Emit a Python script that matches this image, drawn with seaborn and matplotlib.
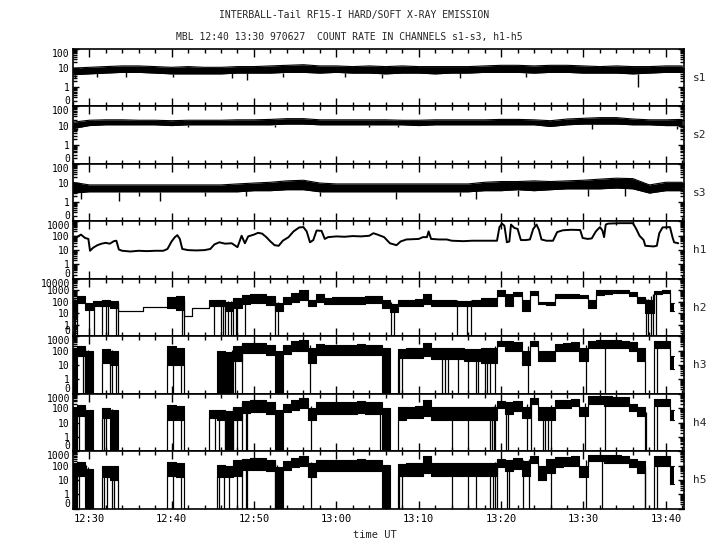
import numpy as np
import matplotlib
matplotlib.use("Agg")
import matplotlib.pyplot as plt
from matplotlib.ticker import FixedLocator, FixedFormatter, LogLocator, MultipleLocator, NullFormatter, FuncFormatter
import seaborn as sns

# time axis: minutes after 12:00 UT
T = np.arange(28, 102)        # 1-min grid for the hard channels
T2 = np.arange(28, 103, 2)    # 2-min grid for the soft channels

# soft channels: lower / upper edge of the noisy trace
s1_lo = [4.5, 5, 5.5, 6, 6, 5.5, 5, 5, 5, 5,
         5.5, 5.5, 5.5, 6, 6, 5.5, 6, 5.5, 5.5, 5,
         5.5, 5.5, 5, 5.5, 5.5, 6, 6, 6, 5.5, 6,
         6, 5.5, 5.5, 5.5, 5, 5.5, 6, 6]
s1_hi = [10, 11, 12, 13, 13, 12, 11, 12, 11, 11,
         12, 12, 13, 14, 15, 13, 13, 12, 13, 12,
         13, 12, 12, 12, 12, 13, 14, 14, 13, 14,
         14, 13, 12, 13, 12, 12, 13, 13]
s1_dip_t = [28.3, 31.0, 34.5, 40.2, 47.3, 49.2, 53.5, 61.0, 65.5, 75.0, 83.0, 96.6]
s1_dip_v = [3, 3.5, 3.5, 3.5, 3, 2.5, 3.5, 3.5, 3, 3, 3.5, 1.0]

s2_lo = [7, 10, 11, 11, 11, 11, 10, 11, 11, 11,
         11, 11, 11, 12, 12, 11, 11, 11, 11, 11,
         11, 10, 11, 11, 11, 11, 11, 11, 11, 9,
         11, 12, 12, 12, 11, 11, 10, 10]
s2_hi = [15, 19, 20, 20, 19, 19, 18, 19, 19, 19,
         20, 20, 21, 23, 23, 20, 20, 20, 20, 20,
         19, 19, 20, 20, 20, 20, 21, 21, 20, 18,
         22, 24, 26, 26, 22, 20, 20, 21]
s2_dip_t = [28.5, 42.0, 52.5, 64.0, 67.5, 91.0, 101.3]
s2_dip_v = [6, 8, 8, 8, 8, 6.5, 7]

s3_lo = [3, 3.5, 3.5, 3.5, 3.5, 3.5, 3.5, 3.5, 3.5, 3.5,
         3.5, 4, 4, 4.5, 4.5, 3.5, 3.5, 3.5, 3.5, 3.5,
         3.5, 3.5, 3.5, 3.5, 3.5, 4, 4, 4.5, 4, 4.5,
         5, 5, 5, 5.5, 5, 3, 4, 4]
s3_hi = [11, 8, 8, 8, 8, 8, 8, 8, 8, 8,
         9, 10, 11, 13, 14, 10, 9, 9, 9, 9,
         9, 9, 9, 9, 9, 11, 12, 12, 13, 12,
         13, 14, 16, 18, 17, 8, 11, 11]
s3_dip_t = [29.0, 33.6, 36.0, 38.6, 44.0, 49.0, 58.0, 67.3, 75.0, 77.0, 82.0, 90.5, 95.0]
s3_dip_v = [1.5, 1.2, 2, 1.2, 2, 2, 2, 1.4, 2, 1.4, 2, 2, 2]

# h1 is a smooth trace, read at its turning points
h1_t = [28.0, 28.5, 29.0, 29.5, 29.9, 30.1, 30.5, 31.0, 31.5, 32.0, 32.5, 33.0, 33.3, 33.6,
        34.0, 35.0, 36.0, 37.0, 38.0, 39.0, 39.5, 40.0, 40.4, 40.7, 41.0, 41.3, 42.0, 43.0,
        44.0, 44.7, 45.2, 45.8, 46.5, 47.3, 48.0, 48.5, 48.9, 49.3, 50.0, 50.5, 51.0, 51.5,
        52.0, 52.5, 53.0, 53.5, 54.2, 54.8, 55.5, 56.0, 56.4, 56.8, 57.2, 57.6, 58.2, 58.6,
        59.0, 60.0, 61.0, 62.0, 63.0, 64.0, 64.5, 65.0, 65.8, 66.5, 67.3, 67.8, 68.5, 70.0,
        70.5, 71.0, 71.2, 71.5, 72.5, 73.4, 74.0, 75.4, 76.5, 77.5, 78.5, 79.5, 79.8, 80.1,
        80.4, 80.7, 81.0, 81.2, 81.6, 82.0, 82.4, 83.0, 83.5, 83.9, 84.3, 84.6, 84.9, 85.5,
        86.3, 86.8, 87.5, 88.5, 89.6, 89.9, 90.5, 91.0, 91.5, 92.0, 92.3, 92.5, 92.7, 93.0,
        94.5, 96.0, 96.4, 96.8, 97.3, 97.5, 98.5, 98.9, 99.2, 99.6, 100.5, 100.8, 101.0, 101.5]
h1_v = [60, 80, 120, 70, 60, 9, 15, 22, 28, 32, 28, 42, 45, 11,
        9, 8, 9, 8.5, 9, 9, 12, 40, 80, 110, 60, 12, 10, 9.5,
        10, 12, 25, 35, 28, 30, 16, 100, 30, 90, 120, 160, 140, 80,
        40, 22, 20, 45, 80, 200, 380, 400, 200, 35, 50, 230, 220, 60,
        80, 90, 85, 95, 90, 100, 150, 120, 80, 30, 22, 40, 55, 60,
        80, 80, 200, 60, 55, 55, 45, 42, 45, 45, 45, 45, 400, 700,
        500, 35, 40, 600, 350, 300, 50, 50, 55, 300, 600, 250, 55, 45,
        45, 180, 240, 260, 250, 70, 60, 65, 200, 400, 230, 80, 600, 700,
        750, 750, 300, 100, 50, 20, 18, 20, 150, 380, 400, 80, 35, 30]

# hard channels: lower / upper edge of the count-rate band (0.1 = zero counts)
h2_lo = [5, 80, 20, 40, 40, 30, 16, 16, 16, 35,
         35, 35, 30, 20, 6, 27, 27, 40, 40, 15,
         30, 60, 80, 80, 50, 15, 60, 100, 150, 40,
         100, 60, 70, 70, 70, 70, 80, 80, 30, 12,
         40, 40, 40, 60, 40, 40, 40, 40, 40, 40,
         40, 40, 300, 40, 300, 15, 400, 60, 50, 200,
         200, 200, 200, 30, 400, 500, 600, 600, 300, 80,
         10, 500, 600, 15]
h2_hi = [150, 300, 80, 120, 150, 130, 16, 16, 16, 35,
         35, 35, 250, 300, 6, 27, 27, 150, 150, 100,
         200, 400, 450, 500, 300, 80, 250, 600, 1000, 150,
         450, 200, 250, 250, 250, 280, 300, 300, 150, 60,
         150, 150, 180, 500, 150, 150, 150, 130, 130, 150,
         200, 200, 1100, 500, 700, 150, 900, 100, 100, 500,
         500, 500, 400, 150, 1000, 1100, 1100, 1000, 700, 250,
         150, 900, 1000, 80]
h2_drop = [28.1, 28.3, 28.5, 30.0, 30.6, 31.5, 32.0, 32.3, 33.3, 33.5, 41.3, 41.5,
           45.2, 46.0, 46.2, 46.5, 46.8, 47.2, 47.5, 47.8, 48.0, 48.9, 52.6, 52.9,
           66.6, 67.0, 74.6, 75.8, 76.4, 97.6, 97.8, 98.2, 98.4, 98.8]

h3_lo = [0.1, 40, 0.1, 0.1, 15, 10, 0.1, 0.1, 0.1, 0.1,
         0.1, 0.1, 10, 10, 0.1, 0.1, 0.1, 0.1, 0.1, 0.1,
         20, 70, 70, 70, 50, 0.1, 60, 100, 100, 15,
         50, 50, 50, 50, 50, 50, 50, 50, 0.1, 0.1,
         30, 30, 30, 40, 25, 25, 25, 25, 20, 20,
         15, 15, 200, 100, 100, 10, 200, 20, 20, 100,
         100, 100, 20, 150, 150, 150, 150, 150, 100, 20,
         0.1, 150, 150, 5]
h3_hi = [150, 200, 100, 0.1, 130, 100, 0.1, 0.1, 0.1, 0.1,
         0.1, 0.1, 200, 150, 0.1, 0.1, 0.1, 0.1, 100, 80,
         200, 350, 350, 350, 250, 100, 250, 450, 600, 150,
         300, 250, 250, 250, 250, 280, 250, 250, 150, 0.1,
         130, 150, 150, 350, 150, 150, 150, 150, 130, 130,
         150, 150, 500, 500, 400, 100, 500, 100, 100, 300,
         350, 400, 150, 500, 550, 550, 550, 500, 400, 150,
         0.1, 500, 500, 40]
h3_drop = [29.2, 29.5, 29.8, 32.5, 32.8, 33.2, 40.2, 41.2, 47.3, 47.7, 48.5, 56.8,
           67.6, 68.0, 72.8, 73.2, 73.6, 74.8, 76.0, 77.0, 77.2, 78.0, 78.3, 78.6,
           79.2, 83.3, 90.3, 92.6, 98.9]

h4_lo = [0.1, 30, 0.1, 0.1, 20, 0.1, 0.1, 0.1, 0.1, 0.1,
         0.1, 0.1, 15, 15, 0.1, 0.1, 0.1, 20, 15, 0.1,
         15, 45, 50, 50, 40, 0.1, 50, 80, 100, 15,
         40, 40, 40, 40, 40, 45, 40, 40, 0.1, 0.1,
         15, 20, 20, 30, 15, 15, 15, 15, 15, 15,
         15, 15, 100, 40, 60, 20, 200, 15, 15, 100,
         100, 150, 30, 200, 200, 150, 150, 150, 60, 30,
         0.1, 150, 150, 15]
h4_hi = [130, 170, 80, 0.1, 100, 80, 0.1, 0.1, 0.1, 0.1,
         0.1, 0.1, 170, 150, 0.1, 0.1, 0.1, 80, 80, 60,
         130, 300, 380, 380, 250, 80, 200, 400, 550, 100,
         250, 250, 250, 250, 250, 300, 250, 250, 100, 0.1,
         130, 130, 150, 380, 130, 130, 130, 130, 130, 130,
         130, 130, 300, 250, 300, 130, 500, 130, 130, 400,
         400, 450, 130, 650, 650, 650, 600, 600, 200, 130,
         0.1, 450, 450, 70]
h4_drop = [28.8, 29.5, 30.0, 31.8, 32.0, 32.8, 33.0, 40.2, 41.2, 45.3, 45.8, 46.5,
           47.5, 48.0, 48.6, 49.0, 49.2, 56.9, 65.3, 74.0, 76.0, 78.6, 78.9, 79.1,
           79.3, 80.6, 80.8, 83.2, 83.6, 85.1, 85.3, 85.7, 86.1, 90.2, 92.6, 97.6, 98.9]

h5_lo = [0.1, 20, 0.1, 0.1, 15, 10, 0.1, 0.1, 0.1, 0.1,
         0.1, 0.1, 20, 15, 0.1, 0.1, 0.1, 0.1, 15, 15,
         20, 50, 50, 50, 40, 0.1, 50, 80, 100, 15,
         40, 40, 40, 40, 40, 45, 40, 40, 0.1, 0.1,
         20, 20, 20, 30, 20, 20, 20, 20, 20, 20,
         20, 20, 80, 40, 60, 20, 150, 10, 30, 80,
         100, 100, 15, 200, 200, 150, 150, 150, 80, 30,
         0.1, 100, 100, 5]
h5_hi = [150, 180, 60, 0.1, 100, 90, 0.1, 0.1, 0.1, 0.1,
         0.1, 0.1, 170, 150, 0.1, 0.1, 0.1, 0.1, 120, 100,
         250, 300, 350, 350, 250, 80, 200, 350, 450, 150,
         250, 250, 250, 250, 250, 300, 250, 250, 120, 0.1,
         130, 150, 150, 450, 150, 150, 150, 150, 150, 150,
         150, 150, 300, 250, 350, 200, 450, 100, 300, 400,
         400, 450, 100, 550, 550, 550, 550, 500, 300, 200,
         0.1, 450, 450, 100]
h5_drop = [28.8, 29.6, 29.8, 30.0, 31.8, 32.2, 32.8, 33.0, 40.2, 41.2, 45.8, 46.4,
           47.0, 48.0, 48.6, 49.0, 49.2, 52.6, 52.8, 53.0, 56.9, 66.3, 67.6, 68.0,
           74.0, 76.0, 77.0, 78.6, 79.0, 79.2, 79.5, 80.7, 80.9, 82.6, 83.4, 86.0,
           90.3, 92.3, 97.5, 98.9]

channels = ["s1", "s2", "s3", "h1", "h2", "h3", "h4", "h5"]
y_tops = [100, 100, 100, 1000, 10000, 1000, 1000, 1000]

sns.set_style("ticks")
plt.rcParams['font.family'] = ['DejaVu Sans Mono']


def soft_panel(ax, lo, hi, dip_t, dip_v):
    ax.fill_between(T2, lo, hi, color="black", lw=0)
    sns.lineplot(x=T2, y=hi, ax=ax, color="black", lw=0.8, errorbar=None)
    sns.lineplot(x=T2, y=lo, ax=ax, color="black", lw=0.8, errorbar=None)
    ax.vlines(dip_t, dip_v, np.interp(dip_t, T2, lo), color="black", lw=1)


def hard_panel(ax, lo, hi, drops):
    ax.fill_between(T, lo, hi, color="black", lw=0, step="mid")
    sns.lineplot(x=T, y=hi, ax=ax, color="black", lw=0.8, errorbar=None, drawstyle="steps-mid")
    sns.lineplot(x=T, y=lo, ax=ax, color="black", lw=0.8, errorbar=None, drawstyle="steps-mid")
    ax.vlines(drops, 0.1, np.interp(drops, T, hi), color="black", lw=0.9)


def hhmm(v, pos):
    v = int(round(v))
    return "%02d:%02d" % (12 + v // 60, v % 60)


fig, axes = plt.subplots(8, 1, figsize=(7.2, 5.5), dpi=100, sharex=True)
fig.subplots_adjust(left=0.101, right=0.95, top=0.911, bottom=0.075, hspace=0)

for ax in axes:
    ax.set_yscale("log")

soft_panel(axes[0], s1_lo, s1_hi, s1_dip_t, s1_dip_v)
soft_panel(axes[1], s2_lo, s2_hi, s2_dip_t, s2_dip_v)
soft_panel(axes[2], s3_lo, s3_hi, s3_dip_t, s3_dip_v)
sns.lineplot(x=h1_t, y=h1_v, ax=axes[3], color="black", lw=1.4, errorbar=None, sort=False)
hard_panel(axes[4], h2_lo, h2_hi, h2_drop)
hard_panel(axes[5], h3_lo, h3_hi, h3_drop)
hard_panel(axes[6], h4_lo, h4_hi, h4_drop)
hard_panel(axes[7], h5_lo, h5_hi, h5_drop)

for ax, name, top in zip(axes, channels, y_tops):
    ax.set_ylim(0.1, top)
    ax.set_xlim(28, 102.2)
    n_dec = int(round(np.log10(top)))
    decades = [0.1] + [10 ** k for k in range(n_dec + 1)]
    labels = ["0"] + [str(10 ** k) for k in range(n_dec + 1)]
    ax.yaxis.set_major_locator(FixedLocator(decades))
    ax.yaxis.set_major_formatter(FixedFormatter(labels))
    ax.yaxis.set_minor_locator(LogLocator(base=10, subs=np.arange(2, 10), numticks=20))
    ax.yaxis.set_minor_formatter(NullFormatter())
    ax.xaxis.set_major_locator(MultipleLocator(10))
    ax.xaxis.set_minor_locator(MultipleLocator(2))
    ax.xaxis.set_major_formatter(FuncFormatter(hhmm))
    ax.tick_params(which="both", direction="in", left=True, right=True, top=True, bottom=True,
                   colors="black", width=1)
    ax.tick_params(axis="y", which="major", length=4, pad=2, labelsize=7)
    ax.tick_params(axis="y", which="minor", length=3)
    ax.tick_params(axis="x", which="major", length=6, pad=4, labelsize=7.5)
    ax.tick_params(axis="x", which="minor", length=3)
    for sp in ax.spines.values():
        sp.set_linewidth(1.2)
        sp.set_color("black")
    ax.set_xlabel("")
    ax.set_ylabel("")
    # keep the end labels inside their own panel, as in the original plot
    yticks = ax.yaxis.get_major_ticks()
    yticks[0].label1.set_verticalalignment("bottom")
    yticks[-1].label1.set_verticalalignment("top")
    ax.text(1.015, 0.5, name, transform=ax.transAxes, va="center", ha="left", fontsize=8)

fig.text(0.492, 0.973, "INTERBALL-Tail RF15-I HARD/SOFT X-RAY EMISSION", ha="center", va="center", fontsize=7)
fig.text(0.485, 0.933, "MBL 12:40 13:30 970627  COUNT RATE IN CHANNELS s1-s3, h1-h5",
         ha="center", va="center", fontsize=7)
fig.text(0.52, 0.027, "time UT", ha="center", va="center", fontsize=7.5)

fig.savefig("out.png", dpi=100, facecolor="white")
